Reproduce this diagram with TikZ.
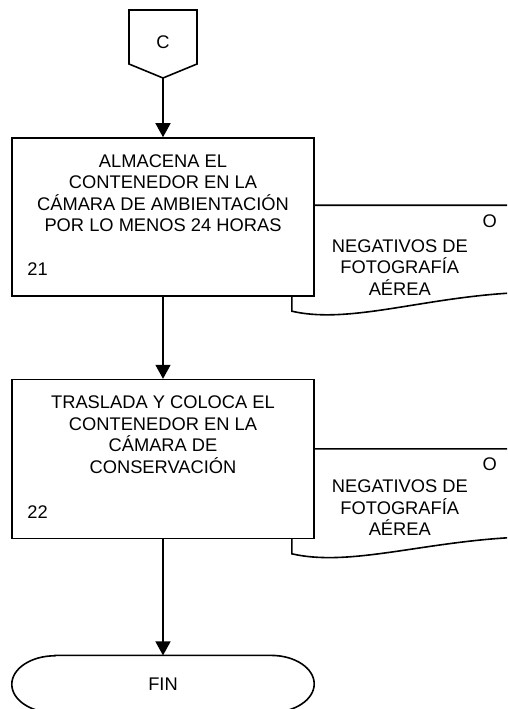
\documentclass[tikz,border=0pt]{standalone}
\usepackage{fontspec}
\setmainfont{Liberation Sans}
\usetikzlibrary{arrows.meta, positioning, calc, backgrounds}

\begin{document}
\begin{tikzpicture}[
    x=1pt, y=1pt,
    every node/.style={font=\fontsize{18.3}{21.5}\selectfont},
    proc/.style={rectangle, draw=black, line width=1.6pt, fill=white,
                 minimum width=302pt, minimum height=158pt, inner sep=0pt},
    doc/.style={draw=black, line width=1.6pt, fill=white},
    lbl/.style={align=center, inner sep=0pt},
    arrow/.style={-{Triangle[length=14pt, width=15pt]}, line width=1.6pt}
]
\useasboundingbox (0,0) rectangle (507,-709);

% off-page connector
\draw[doc] (129,-10) -- (197,-10) -- (197,-64) -- (163,-78) -- (129,-64) -- cycle;
\node (conC) at (163,-42) {C};
\coordinate (cpt) at (163,-78);

% process boxes
\node[proc] (alm) at (163,-217) {};
\node[proc, minimum height=159pt, below=82pt of alm] (cons) {};
\node[lbl, below=17pt of alm.north] (almtxt) {ALMACENA EL\\CONTENEDOR EN LA\\CÁMARA DE AMBIENTACIÓN\\POR LO MENOS 24 HORAS};
\node[lbl, above right=21.5pt and 16pt of alm.south west] (num21) {21};
\node[lbl, below=17pt of cons.north] (constxt) {TRASLADA Y COLOCA EL\\CONTENEDOR EN LA\\CÁMARA DE\\CONSERVACIÓN};
\node[lbl, above right=21pt and 16pt of cons.south west] (num22) {22};

% documents behind the boxes
\path (alm.north east) ++(-23,-68) coordinate (d1);
\path (cons.north east) ++(-23,-70) coordinate (d2);
\begin{scope}[on background layer]
  \clip (0,0) rectangle (507,-709);
  \draw[doc] (d1) -- ++(240,0) -- ++(0,-87) .. controls +(-101,-2) and +(61,-14) .. ($(d1)+(0,-106)$) -- cycle;
  \draw[doc] (d2) -- ++(240,0) -- ++(0,-88) .. controls +(-101,-2) and +(61,-14) .. ($(d2)+(0,-105)$) -- cycle;
\end{scope}
\node[lbl] (o1) at ($(d1)+(198,-16)$) {O};
\node[lbl] (neg1) at ($(d1)+(108,-62)$) {NEGATIVOS DE\\FOTOGRAFÍA\\AÉREA};
\node[lbl] (o2) at ($(d2)+(198,-15)$) {O};
\node[lbl] (neg2) at ($(d2)+(108,-59)$) {NEGATIVOS DE\\FOTOGRAFÍA\\AÉREA};

% terminator
\node[minimum width=302pt, minimum height=57pt, inner sep=0pt, below=116pt of cons] (fin) {FIN};
\draw[line width=1.6pt] ($(fin.north west)+(43,0)$) -- ($(fin.north east)+(-43,0)$)
    arc[start angle=90, end angle=-90, x radius=43, y radius=28.5]
    -- ($(fin.south west)+(43,0)$)
    arc[start angle=270, end angle=90, x radius=43, y radius=28.5] -- cycle;

\draw[arrow] (cpt) -- (alm);
\draw[arrow] (alm) -- (cons);
\draw[arrow] (cons) -- (fin);
\end{tikzpicture}
\end{document}
